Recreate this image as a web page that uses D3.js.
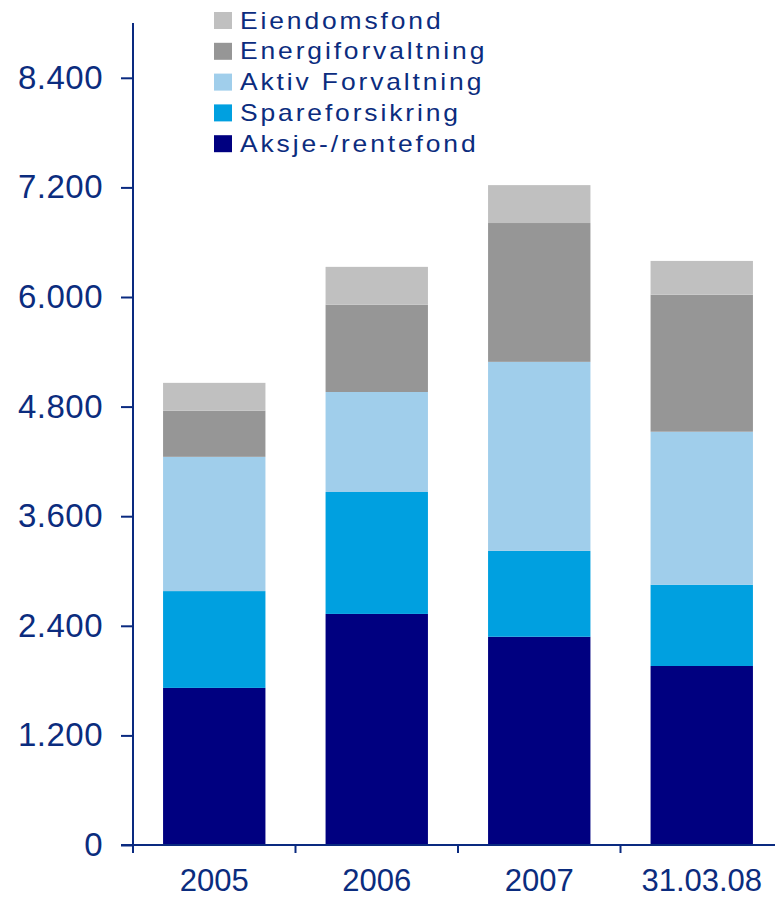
<!DOCTYPE html>
<html>
<head>
<meta charset="utf-8">
<script src="https://cdn.jsdelivr.net/npm/d3@7"></script>
<style>
  html, body { margin: 0; padding: 0; background: #ffffff; }
  svg { display: block; }
  text { font-family: Arial, "Liberation Sans", sans-serif; fill: #0b2c7e; }
</style>
</head>
<body>
<svg id="chart" width="775" height="898"></svg>
<script>
// Categories (periods) and stacked series, bottom to top
const categories = ["2005", "2006", "2007", "31.03.08"];
const seriesNames = ["Aksje-/rentefond", "Spareforsikring", "Aktiv Forvaltning", "Energiforvaltning", "Eiendomsfond"];
const aksjeRentefond   = [1720, 2530, 2280, 1960];
const spareforsikring  = [1060, 1335,  940,  890];
const aktivForvaltning = [1470, 1095, 2070, 1675];
const energiforvaltning = [505,  955, 1520, 1500];
const eiendomsfond     = [ 305,  415,  415,  370];
const yTicks = [0, 1200, 2400, 3600, 4800, 6000, 7200, 8400];

const seriesValues = [aksjeRentefond, spareforsikring, aktivForvaltning, energiforvaltning, eiendomsfond];
const colors = ["#000080", "#00A0E0", "#A0CEEB", "#969696", "#C0C0C0"];
const axisColor = "#0a2a80";

const svg = d3.select("#chart");

const rows = categories.map((c, i) => {
  const r = { cat: c };
  seriesNames.forEach((s, j) => r[s] = seriesValues[j][i]);
  return r;
});
const stacked = d3.stack().keys(seriesNames)(rows);

const x = d3.scaleBand().domain(categories).range([133, 783])
  .paddingInner(0.37).paddingOuter(0.185);
const y = d3.scaleLinear().domain([0, 9000]).range([845, 23]);

const nf = d3.formatLocale({ decimal: ",", thousands: ".", grouping: [3], currency: ["", ""] }).format(",d");

// Bars
svg.append("g").selectAll("g").data(stacked).join("g")
  .attr("fill", (d, i) => colors[i])
  .selectAll("rect").data(d => d).join("rect")
  .attr("x", d => x(d.data.cat))
  .attr("width", x.bandwidth())
  .attr("y", d => y(d[1]))
  .attr("height", d => y(d[0]) - y(d[1]));

// Y axis
const yAxis = svg.append("g").attr("transform", "translate(133,0)")
  .call(d3.axisLeft(y).tickValues(yTicks).tickSize(12).tickPadding(18).tickFormat(nf));
yAxis.select(".domain").remove();
yAxis.selectAll(".tick line").attr("stroke", axisColor).attr("stroke-width", 2);
yAxis.selectAll(".tick text").attr("font-size", 33).attr("fill", "#0b2c7e")
  .attr("font-family", "Arial, 'Liberation Sans', sans-serif").attr("letter-spacing", 0.5);
svg.append("line").attr("x1", 133).attr("x2", 133).attr("y1", y(9000)).attr("y2", y(0) + 8)
  .attr("stroke", axisColor).attr("stroke-width", 2);

// X axis
svg.append("line").attr("x1", 121).attr("x2", 783).attr("y1", y(0)).attr("y2", y(0))
  .attr("stroke", axisColor).attr("stroke-width", 2);
const bounds = d3.range(categories.length + 1).map(i => x.range()[0] + i * x.step());
svg.append("g").selectAll("line").data(bounds).join("line")
  .attr("x1", d => d).attr("x2", d => d)
  .attr("y1", y(0)).attr("y2", y(0) + 8)
  .attr("stroke", axisColor).attr("stroke-width", 2);
svg.append("g").selectAll("text").data(categories).join("text")
  .attr("x", d => x(d) + x.bandwidth() / 2)
  .attr("y", 891)
  .attr("text-anchor", "middle")
  .attr("font-size", 31)
  .text(d => d);

// Legend (top series first)
const legendOrder = seriesNames.map((s, i) => i).reverse();
const leg = svg.append("g").selectAll("g").data(legendOrder).join("g")
  .attr("transform", (d, k) => `translate(214,${12 + k * 30.8})`);
leg.append("rect").attr("width", 18).attr("height", 17).attr("fill", d => colors[d]);
leg.append("text")
  .attr("transform", "translate(26,16.5) scale(1.15,1)")
  .attr("font-size", 23).attr("letter-spacing", 2.5)
  .text(d => seriesNames[d]);
</script>
</body>
</html>
